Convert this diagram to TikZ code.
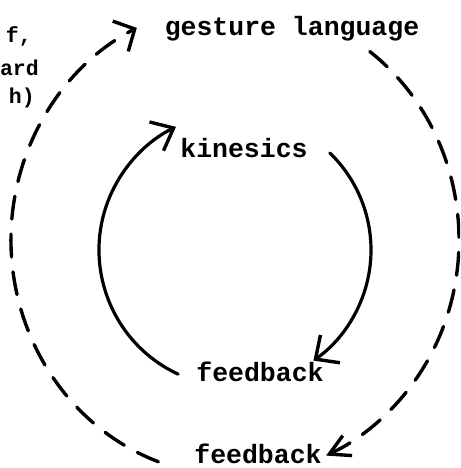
\documentclass[tikz,border=0pt]{standalone}
\usepackage{fontspec}
\setmonofont{Liberation Mono}
\usetikzlibrary{arrows.meta,calc}
\begin{document}
\begin{tikzpicture}[x=1pt,y=1pt,
  lbl/.style={font=\ttfamily\bfseries\fontsize{26.5}{30}\selectfont, inner sep=0pt, anchor=base},
  side/.style={font=\ttfamily\bfseries\fontsize{21.5}{25}\selectfont, inner sep=0pt, anchor=base east},
  loop/.style={line width=3.2pt, line cap=round},
  outer/.style={line width=3.4pt, line cap=round, dash pattern=on 23pt off 15pt}]
\useasboundingbox (0,0) rectangle (460,468);
\clip (0,0) rectangle (460,468);

% labels
\node[lbl] (gl)    at (292,432) {gesture language};
\node[lbl] (kin)   at (244,310) {kinesics};
\node[lbl] (fbin)  at (260,86)  {feedback};
\node[lbl] (fbout) at (258,5)   {feedback};
\node[side] (l1) at (32,425) {f,};
\node[side] (l2) at (39,392) {ard};
\node[side] (l3) at (35,364) {h)};

% centres of the two loops
\coordinate (ic) at (236,218);
\coordinate (oc) at (235,228);

% inner loop: feedback -> kinesics (left), kinesics -> feedback (right)
\coordinate (ia) at ($(ic)+(245:137)$);
\coordinate (ib) at ($(ic)+(46:135)$);
\draw[loop, -{Straight Barb[length=19pt, width=32pt, line width=3.4pt]}]
  (ia) arc[start angle=245, end angle=116, radius=137];
\draw[loop, -{Straight Barb[length=18pt, width=34pt, line width=3.4pt]}]
  (ib) arc[start angle=46, end angle=-55, radius=135];

% outer loop (dashed): gesture language -> feedback (right), feedback -> gesture language (left)
\coordinate (oa) at ($(oc)+(53:224 and 236)$);
\coordinate (ob) at ($(oc)+(250:224 and 236)$);
\draw[outer, -{Straight Barb[length=20pt, width=22pt, line width=3.4pt]}]
  (oa) arc[start angle=53, end angle=-66, x radius=224, y radius=236];
\draw[outer, -{Straight Barb[length=16pt, width=34pt, line width=3.4pt]}]
  (ob) arc[start angle=250, end angle=116, x radius=224, y radius=236];
\end{tikzpicture}
\end{document}
